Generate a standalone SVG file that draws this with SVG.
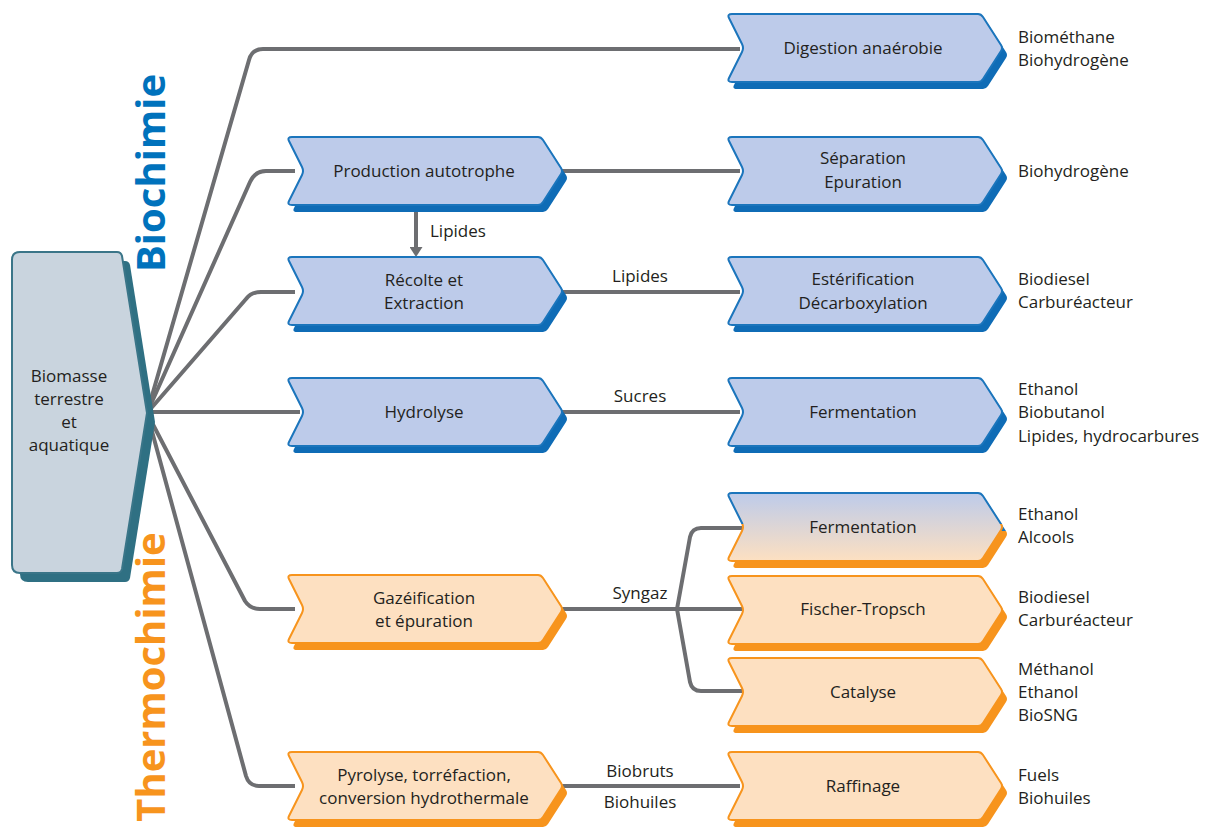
<svg xmlns="http://www.w3.org/2000/svg" xmlns:xlink="http://www.w3.org/1999/xlink" width="1212" height="829" viewBox="0 0 1212 829">
<style>
text{font-family:"Open Sans","Liberation Sans",sans-serif;font-size:17px;fill:#231f20}
.c{text-anchor:middle}
.t{font-weight:bold;font-size:40px;text-anchor:middle}
.ln{fill:none;stroke:#6d6e71;stroke-width:4;stroke-linejoin:round}
.bsh{fill:#0f6cb6}
.bn{fill:#bdcbea;stroke:#1b75bc;stroke-width:2}
.osh{fill:#f7941d}
.on{fill:#fde0c1;stroke:#f7941d;stroke-width:2}
.gsh{fill:url(#gstroke)}
.gn{fill:url(#gfill);stroke:url(#gstroke);stroke-width:2}
</style>
<defs>
<path id="chev" d="M5,0 L251,0 Q254,0 256,3 L274,31 Q276,34 274,37 L256,65 Q254,68 251,68 L5,68 Q0,68 2,64 L15,38 Q17,34 15,30 L2,4 Q0,0 5,0 Z"/>
<linearGradient id="gfill" x1="0" y1="0" x2="0" y2="1">
<stop offset="0" stop-color="#bdcbea"/>
<stop offset="1" stop-color="#fde0c1"/>
</linearGradient>
<linearGradient id="gstroke" x1="0" y1="0" x2="0" y2="1">
<stop offset="0.45" stop-color="#1b75bc"/>
<stop offset="0.45" stop-color="#f7941d"/>
</linearGradient>
<marker id="arr" viewBox="0 0 10 13" refX="0" refY="6.5" markerWidth="2.5" markerHeight="3.25" orient="auto">
<path d="M0,0 L10,6.5 L0,13 Z" fill="#6d6e71"/>
</marker>
</defs>

<g id="titles">
<text class="t" transform="translate(165,173) rotate(-90)" style="fill:#0072bc">Biochimie</text>
<text class="t" transform="translate(165,677) rotate(-90)" style="fill:#f7941d">Thermochimie</text>
</g>

<g id="connectors">
<path class="ln" d="M147,413 L249,60 Q252,49 263,49 L740,49"/>
<path class="ln" d="M147,413 L250,182 Q255,171 266,171 L295,171"/>
<path class="ln" d="M147,413 L246,299 Q251,292 261,292 L295,292"/>
<path class="ln" d="M147,412 L300,412"/>
<path class="ln" d="M147,413 L245,601 Q250,609 260,609 L295,609"/>
<path class="ln" d="M147,413 L246,776 Q249,786 259,786 L295,786"/>
<path class="ln" d="M560,171 L740,171"/>
<path class="ln" d="M560,292 L740,292"/>
<path class="ln" d="M560,412 L740,412"/>
<path class="ln" d="M560,609 L745,609"/>
<path class="ln" d="M677,609 L690,537 Q692,528 701,528 L745,528"/>
<path class="ln" d="M677,609 L690,682 Q692,691 701,691 L745,691"/>
<path class="ln" d="M560,786 L740,786"/>
<path class="ln" d="M416,212 L416,247" marker-end="url(#arr)"/>
<text x="430" y="237">Lipides</text>
<text class="c" x="640" y="282">Lipides</text>
<text class="c" x="640" y="402">Sucres</text>
<text class="c" x="640" y="599">Syngaz</text>
<text class="c" x="640" y="777">Biobruts</text>
<text class="c" x="640" y="808">Biohuiles</text>
</g>

<g id="n-biomasse">
<path d="M28,261 L125,261 Q129,261 130,265 L155,422 L130,578 Q129,582 125,582 L28,582 Q20,582 20,574 L20,269 Q20,261 28,261 Z" fill="#2f7083"/>
<path d="M20,252 L117,252 Q121,252 122,256 L147,413 L122,569 Q121,573 117,573 L20,573 Q12,573 12,565 L12,260 Q12,252 20,252 Z" fill="#c9d4de" stroke="#3a7588" stroke-width="2"/>
<text class="c" x="69" y="382">Biomasse</text>
<text class="c" x="69" y="405">terrestre</text>
<text class="c" x="69" y="428">et</text>
<text class="c" x="69" y="451">aquatique</text>
</g>

<g id="n-digestion">
<use class="bsh" href="#chev" x="732" y="21"/>
<use class="bn" href="#chev" x="727" y="14"/>
<text class="c" x="863" y="54">Digestion anaérobie</text>
</g>
<g id="n-production">
<use class="bsh" href="#chev" x="292" y="144"/>
<use class="bn" href="#chev" x="287" y="137"/>
<text class="c" x="424" y="177">Production autotrophe</text>
</g>
<g id="n-separation">
<use class="bsh" href="#chev" x="732" y="144"/>
<use class="bn" href="#chev" x="727" y="137"/>
<text class="c" x="863" y="164">Séparation</text>
<text class="c" x="863" y="188">Epuration</text>
</g>
<g id="n-recolte">
<use class="bsh" href="#chev" x="292" y="264"/>
<use class="bn" href="#chev" x="287" y="257"/>
<text class="c" x="424" y="286">Récolte et</text>
<text class="c" x="424" y="309">Extraction</text>
</g>
<g id="n-esterification">
<use class="bsh" href="#chev" x="732" y="264"/>
<use class="bn" href="#chev" x="727" y="257"/>
<text class="c" x="863" y="285">Estérification</text>
<text class="c" x="863" y="309">Décarboxylation</text>
</g>
<g id="n-hydrolyse">
<use class="bsh" href="#chev" x="292" y="385"/>
<use class="bn" href="#chev" x="287" y="378"/>
<text class="c" x="424" y="418">Hydrolyse</text>
</g>
<g id="n-fermentation1">
<use class="bsh" href="#chev" x="732" y="385"/>
<use class="bn" href="#chev" x="727" y="378"/>
<text class="c" x="863" y="418">Fermentation</text>
</g>
<g id="n-fermentation2">
<use class="gsh" href="#chev" x="732" y="500"/>
<use class="gn" href="#chev" x="727" y="493"/>
<text class="c" x="863" y="533">Fermentation</text>
</g>
<g id="n-gazeification">
<use class="osh" href="#chev" x="292" y="582"/>
<use class="on" href="#chev" x="287" y="575"/>
<text class="c" x="424" y="604">Gazéification</text>
<text class="c" x="424" y="627">et épuration</text>
</g>
<g id="n-fischer">
<use class="osh" href="#chev" x="732" y="583"/>
<use class="on" href="#chev" x="727" y="576"/>
<text class="c" x="863" y="615">Fischer-Tropsch</text>
</g>
<g id="n-catalyse">
<use class="osh" href="#chev" x="732" y="665"/>
<use class="on" href="#chev" x="727" y="658"/>
<text class="c" x="863" y="698">Catalyse</text>
</g>
<g id="n-pyrolyse">
<use class="osh" href="#chev" x="292" y="759"/>
<use class="on" href="#chev" x="287" y="752"/>
<text class="c" x="424" y="781">Pyrolyse, torréfaction,</text>
<text class="c" x="424" y="804">conversion hydrothermale</text>
</g>
<g id="n-raffinage">
<use class="osh" href="#chev" x="732" y="759"/>
<use class="on" href="#chev" x="727" y="752"/>
<text class="c" x="863" y="792">Raffinage</text>
</g>

<g id="outputs">
<text x="1018" y="43">Biométhane</text>
<text x="1018" y="66">Biohydrogène</text>
<text x="1018" y="177">Biohydrogène</text>
<text x="1018" y="285">Biodiesel</text>
<text x="1018" y="308">Carburéacteur</text>
<text x="1018" y="395">Ethanol</text>
<text x="1018" y="418">Biobutanol</text>
<text x="1018" y="442">Lipides, hydrocarbures</text>
<text x="1018" y="520">Ethanol</text>
<text x="1018" y="543">Alcools</text>
<text x="1018" y="603">Biodiesel</text>
<text x="1018" y="626">Carburéacteur</text>
<text x="1018" y="675">Méthanol</text>
<text x="1018" y="698">Ethanol</text>
<text x="1018" y="721">BioSNG</text>
<text x="1018" y="781">Fuels</text>
<text x="1018" y="804">Biohuiles</text>
</g>
</svg>
